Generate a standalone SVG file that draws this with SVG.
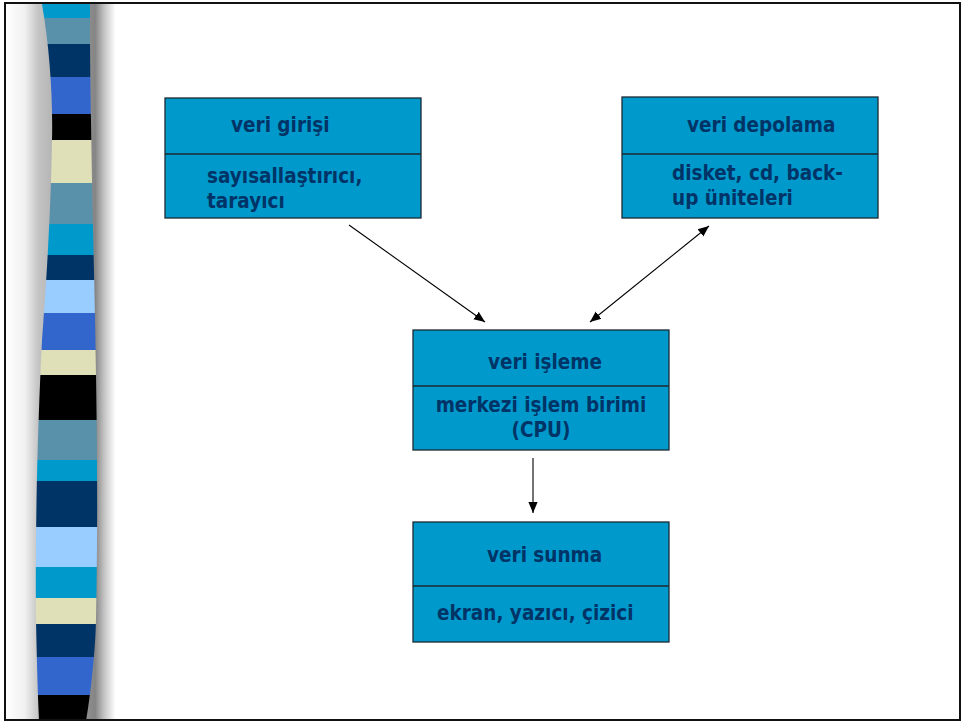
<svg xmlns="http://www.w3.org/2000/svg" width="963" height="723" viewBox="0 0 963 723">
<defs>
<style>
.box{fill:#0099CC;stroke:#1a2a33;stroke-width:1.3}
.div{stroke:#1a2a33;stroke-width:1.3}
.t{font-family:"DejaVu Sans Condensed","DejaVu Sans",Tahoma,sans-serif;font-weight:bold;font-size:20.5px;fill:#003366}
.conn{stroke:#000;stroke-width:1.1;fill:none}
</style>
<linearGradient id="shade" x1="6" y1="0" x2="125" y2="0" gradientUnits="userSpaceOnUse">
<stop offset="0" stop-color="#ffffff"/>
<stop offset="0.16" stop-color="#f0f0f0"/>
<stop offset="0.27" stop-color="#c4c4c4"/>
<stop offset="0.75" stop-color="#858585"/>
<stop offset="0.82" stop-color="#c0c0c0"/>
<stop offset="0.92" stop-color="#ffffff"/>
<stop offset="1" stop-color="#ffffff"/>
</linearGradient>
<clipPath id="band">
<path d="M42,4 C50,50 53,100 52,140 C51,200 48,260 42,340 C38,420 35,520 36,620 C37,670 38,700 39,721 L86,721 C89,705 95,660 96,620 C98,520 97,440 96,375 C95,300 92,200 91,120 C90,60 90,30 90,4 Z"/>
</clipPath>
<marker id="ah" viewBox="0 0 10 10" refX="10" refY="5" markerWidth="11" markerHeight="11" markerUnits="userSpaceOnUse" orient="auto-start-reverse">
<path d="M0,0.8 L10,5 L0,9.2 Z" fill="#000"/>
</marker>
</defs>
<rect x="0" y="0" width="963" height="723" fill="#ffffff"/>
<g id="background">
<rect x="6" y="4" width="120" height="716" fill="url(#shade)"/>
<g clip-path="url(#band)">
<rect x="30" y="4" width="75" height="14" fill="#0099CC"/>
<rect x="30" y="18" width="75" height="26" fill="#5A91AA"/>
<rect x="30" y="44" width="75" height="33" fill="#003366"/>
<rect x="30" y="77" width="75" height="37" fill="#3366CC"/>
<rect x="30" y="114" width="75" height="26" fill="#000000"/>
<rect x="30" y="140" width="75" height="43" fill="#DFE0B8"/>
<rect x="30" y="183" width="75" height="41" fill="#5A91AA"/>
<rect x="30" y="224" width="75" height="31" fill="#0099CC"/>
<rect x="30" y="255" width="75" height="25" fill="#003366"/>
<rect x="30" y="280" width="75" height="33" fill="#99CCFF"/>
<rect x="30" y="313" width="75" height="37" fill="#3366CC"/>
<rect x="30" y="350" width="75" height="25" fill="#DFE0B8"/>
<rect x="30" y="375" width="75" height="45" fill="#000000"/>
<rect x="30" y="420" width="75" height="40" fill="#5A91AA"/>
<rect x="30" y="460" width="75" height="21" fill="#0099CC"/>
<rect x="30" y="481" width="75" height="46" fill="#003366"/>
<rect x="30" y="527" width="75" height="40" fill="#99CCFF"/>
<rect x="30" y="567" width="75" height="31" fill="#0099CC"/>
<rect x="30" y="598" width="75" height="26" fill="#DFE0B8"/>
<rect x="30" y="624" width="75" height="33" fill="#003366"/>
<rect x="30" y="657" width="75" height="38" fill="#3366CC"/>
<rect x="30" y="695" width="75" height="26" fill="#000000"/>
</g>
<rect x="5" y="3" width="955" height="717" fill="none" stroke="#111" stroke-width="2"/>
</g>
<g id="connectors">
<line class="conn" x1="349" y1="225" x2="485" y2="322" marker-end="url(#ah)"/>
<line class="conn" x1="709" y1="226" x2="590" y2="322" marker-start="url(#ah)" marker-end="url(#ah)"/>
<line class="conn" x1="533" y1="458" x2="533" y2="513" marker-end="url(#ah)"/>
</g>
<g id="veri-girisi">
<rect class="box" x="165" y="98" width="256" height="120"/>
<line class="div" x1="165" y1="154" x2="421" y2="154"/>
<text class="t" x="231" y="132">veri girişi</text>
<text class="t" x="207" y="183">sayısallaştırıcı,</text>
<text class="t" x="207" y="208">tarayıcı</text>
</g>
<g id="veri-depolama">
<rect class="box" x="622" y="97" width="256" height="121"/>
<line class="div" x1="622" y1="154" x2="878" y2="154"/>
<text class="t" x="687" y="132">veri depolama</text>
<text class="t" x="672" y="180">disket, cd, back-</text>
<text class="t" x="672" y="205">up üniteleri</text>
</g>
<g id="veri-isleme">
<rect class="box" x="413" y="330" width="256" height="120"/>
<line class="div" x1="413" y1="386" x2="669" y2="386"/>
<text class="t" x="545" y="369" text-anchor="middle">veri işleme</text>
<text class="t" x="541" y="412" text-anchor="middle">merkezi işlem birimi</text>
<text class="t" x="541" y="437" text-anchor="middle">(CPU)</text>
</g>
<g id="veri-sunma">
<rect class="box" x="413" y="522" width="256" height="120"/>
<line class="div" x1="413" y1="586" x2="669" y2="586"/>
<text class="t" x="487" y="562">veri sunma</text>
<text class="t" x="437" y="620">ekran, yazıcı, çizici</text>
</g>
</svg>
